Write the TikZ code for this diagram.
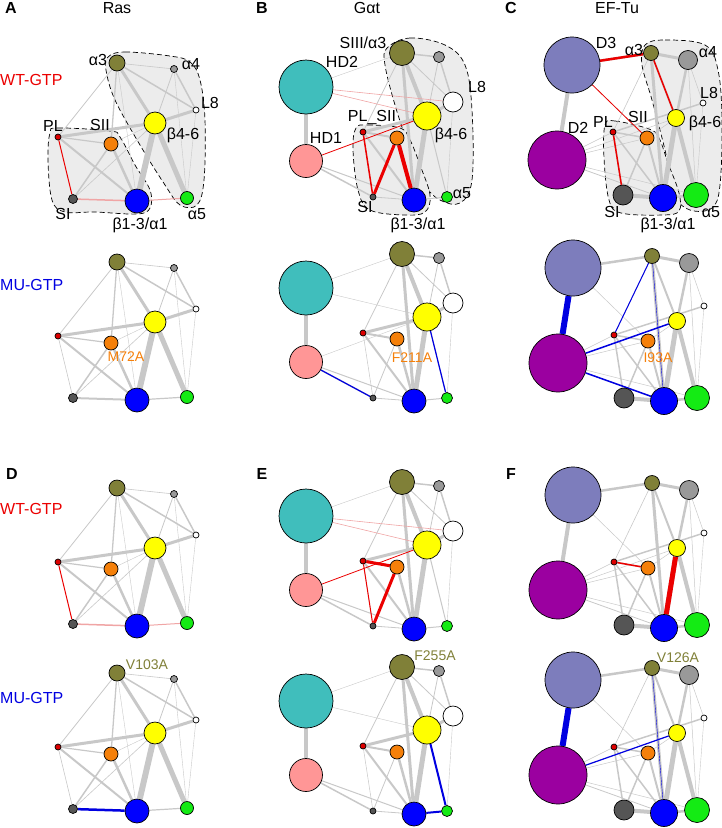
\documentclass[tikz,border=0pt]{standalone}
\usepackage{fontspec}
\setmainfont{Liberation Sans}

\definecolor{olv}{RGB}{128,128,56}
\definecolor{gra}{RGB}{153,153,153}
\definecolor{dgr}{RGB}{85,85,85}
\definecolor{yel}{RGB}{255,255,0}
\definecolor{org}{RGB}{245,128,10}
\definecolor{plred}{RGB}{221,0,0}
\definecolor{blu}{RGB}{0,0,255}
\definecolor{grn}{RGB}{20,235,20}
\definecolor{teal2}{RGB}{64,190,188}
\definecolor{pnk}{RGB}{255,150,150}
\definecolor{dthree}{RGB}{125,125,188}
\definecolor{dtwo}{RGB}{155,0,160}
\definecolor{edgegray}{RGB}{200,200,200}
\definecolor{hullgray}{RGB}{236,236,236}
\definecolor{wtred}{RGB}{235,0,0}
\definecolor{lightred}{RGB}{240,165,165}
\definecolor{mublue}{RGB}{0,0,225}

\pgfdeclarelayer{bg}
\pgfsetlayers{bg,main}

\tikzset{
  nd/.style={circle, draw=black, line width=0.7pt, inner sep=0pt},
  ed/.style={draw=edgegray},
  rd/.style={draw=wtred},
  lr/.style={draw=lightred},
  bl/.style={draw=mublue},
  hull/.style={draw=black, fill=hullgray, line width=0.7pt, dash pattern=on 5pt off 3pt},
  lbl/.style={font=\fontsize{16}{18}\selectfont, inner sep=0pt},
  mut/.style={font=\fontsize{14}{16}\selectfont, inner sep=0pt},
  ttl/.style={font=\fontsize{16}{18}\selectfont\bfseries, inner sep=0pt}
}

% Ras
\newcommand{\rasnodes}[1]{%
  \node[nd, fill=olv, minimum size=16pt] (#1a3) at (0,0) {};
  \node[nd, fill=gra, minimum size=7pt] (#1a4) at (57,6) {};
  \node[nd, fill=white, minimum size=6pt] (#1l8) at (79,47) {};
  \node[nd, fill=yel, minimum size=22pt] (#1b46) at (38,60) {};
  \node[nd, fill=org, minimum size=14pt] (#1sii) at (-6,81) {};
  \node[nd, fill=plred, minimum size=6pt] (#1pl) at (-59,74) {};
  \node[nd, fill=dgr, minimum size=9pt] (#1si) at (-44,136) {};
  \node[nd, fill=blu, minimum size=24pt] (#1b13) at (20,138) {};
  \node[nd, fill=grn, minimum size=13pt] (#1a5) at (70,135) {};
}
\newcommand{\rasedges}[1]{%
  \foreach \u/\v/\w in {a3/a4/0.6, a3/l8/1.5, a3/b46/3, a3/sii/1.3, a3/pl/0.8,
      a3/b13/0.4, a4/b46/0.8, a4/l8/1.5, a4/a5/0.4, l8/b46/3, l8/a5/0.4,
      pl/b46/3, pl/sii/1.2, pl/b13/2, sii/si/1.5, sii/b13/2.5, b46/b13/6,
      b46/a5/5, b46/si/0.6, b46/sii/0.4}
    \draw[ed, line width=\w pt] (#1\u) -- (#1\v);
}

% G alpha t
\newcommand{\gatnodes}[1]{%
  \node[nd, fill=olv, minimum size=25pt] (#1a3) at (0,0) {};
  \node[nd, fill=gra, minimum size=11pt] (#1a4) at (37,4) {};
  \node[nd, fill=white, minimum size=20pt] (#1l8) at (51,49) {};
  \node[nd, fill=yel, minimum size=28pt] (#1b46) at (25,63) {};
  \node[nd, fill=org, minimum size=14pt] (#1sii) at (-5,85) {};
  \node[nd, fill=plred, minimum size=6pt] (#1pl) at (-39,79) {};
  \node[nd, fill=dgr, minimum size=6pt] (#1si) at (-29,144) {};
  \node[nd, fill=blu, minimum size=24pt] (#1b13) at (12,147) {};
  \node[nd, fill=grn, minimum size=11pt] (#1a5) at (45,144) {};
  \node[nd, fill=teal2, minimum size=54pt] (#1hd2) at (-96,34) {};
  \node[nd, fill=pnk, minimum size=33pt] (#1hd1) at (-96,108) {};
}
\newcommand{\gatedges}[1]{%
  \foreach \u/\v/\w in {a3/a4/1.5, a3/b46/4, a3/l8/0.8, a3/b13/3, a3/pl/0.8,
      a3/hd2/0.4, a4/b46/0.8, a4/l8/1.5, l8/b46/3, b46/pl/3, b46/b13/5,
      hd2/hd1/4, pl/b13/2, pl/sii/2, sii/b13/2.5, sii/si/0.8, si/b13/0.8,
      b13/a5/1, hd1/b13/1, hd1/si/1.5, l8/a5/0.4, pl/si/0.5, b46/a5/1}
    \draw[ed, line width=\w pt] (#1\u) -- (#1\v);
}

% EF-Tu
\newcommand{\efnodes}[1]{%
  \node[nd, fill=olv, minimum size=15pt] (#1a3) at (0,0) {};
  \node[nd, fill=gra, minimum size=19pt] (#1a4) at (37,7) {};
  \node[nd, fill=white, minimum size=6pt] (#1l8) at (52,50) {};
  \node[nd, fill=yel, minimum size=17pt] (#1b46) at (25,65) {};
  \node[nd, fill=org, minimum size=14pt] (#1sii) at (-4,85) {};
  \node[nd, fill=plred, minimum size=6pt] (#1pl) at (-38,79) {};
  \node[nd, fill=dgr, minimum size=20pt] (#1si) at (-28,142) {};
  \node[nd, fill=blu, minimum size=27pt] (#1b13) at (12,145) {};
  \node[nd, fill=grn, minimum size=25pt] (#1a5) at (45,142) {};
  \node[nd, fill=dthree, minimum size=56pt] (#1d3) at (-79,12) {};
  \node[nd, fill=dtwo, minimum size=58pt] (#1d2) at (-94,107) {};
}
\newcommand{\efedges}[1]{%
  \foreach \u/\v/\w in {d3/a3/2.5, d3/sii/0.5, d3/d2/4, a3/a4/3, a3/b46/2,
      a3/b13/3, a3/pl/0.6, a4/b46/2.5, a4/l8/0.5, a4/a5/0.5, l8/pl/1.5,
      l8/a5/0.4, b46/b13/5, b46/a5/4, d2/b46/0.5, d2/sii/0.5, d2/b13/0.8,
      d2/a5/0.5, d2/pl/0.5, pl/si/1.5, pl/b13/1.5, pl/sii/1.5, sii/si/1.5,
      sii/b13/2, si/b13/4, b13/a5/2.5, sii/b46/0.5}
    \draw[ed, line width=\w pt] (#1\u) -- (#1\v);
}

\begin{document}
\begin{tikzpicture}[x=1pt,y=-1pt]
\useasboundingbox (0,0) rectangle (722,828);

% titles
\node[ttl] (tA) at (11,8) {A};
\node[lbl] (tRas) at (117,8) {Ras};
\node[ttl] (tB) at (262,8) {B};
\node[lbl] (tGat) at (367,8) {Gαt};
\node[ttl] (tC) at (511,8) {C};
\node[lbl] (tEF) at (617,8) {EF-Tu};
\node[ttl] (tD) at (12,474) {D};
\node[ttl] (tE) at (262,474) {E};
\node[ttl] (tF) at (511,474) {F};
\node[lbl, text=wtred, anchor=west] (rowA1) at (0,80) {WT-GTP};
\node[lbl, text=mublue, anchor=west] (rowA2) at (0,285) {MU-GTP};
\node[lbl, text=wtred, anchor=west] (rowD1) at (0,509) {WT-GTP};
\node[lbl, text=mublue, anchor=west] (rowD2) at (0,698) {MU-GTP};

% ---- A, WT
\begin{scope}[shift={(117,63)}]
  \begin{pgfonlayer}{bg}
    \draw[hull] plot[smooth cycle, tension=0.6] coordinates {(-9,-6) (8,-11) (53,-7) (73,-1) (83,17) (88,57) (87,117) (80,142) (63,142) (48,122) (23,82) (-2,37) (-11,7)};
    \draw[hull] plot[smooth cycle, tension=0.6] coordinates {(-67,70) (-59,65) (-7,68) (3,74) (18,102) (33,127) (33,145) (20,151) (-22,149) (-52,149) (-65,137) (-69,97)};
  \end{pgfonlayer}
  \rasnodes{AW}
  \begin{pgfonlayer}{bg}
    \rasedges{AW}
    \draw[rd, line width=1pt] (AWpl) -- (AWsi);
    \draw[lr, line width=1.5pt] (AWsi) -- (AWb13);
    \draw[lr, line width=1pt] (AWb13) -- (AWa5);
  \end{pgfonlayer}
  \node[lbl] (AWt1) at (-19,-3) {α3};
  \node[lbl] (AWt2) at (74,1) {α4};
  \node[lbl] (AWt3) at (93,40) {L8};
  \node[lbl] (AWt4) at (66,72) {β4-6};
  \node[lbl] (AWt5) at (-17,62) {SII};
  \node[lbl] (AWt6) at (-64,63) {PL};
  \node[lbl] (AWt7) at (-54,151) {SI};
  \node[lbl] (AWt8) at (23,162) {β1-3/α1};
  \node[lbl] (AWt9) at (80,151) {α5};
\end{scope}

% ---- A, MU
\begin{scope}[shift={(117,262)}]
  \rasnodes{AM}
  \begin{pgfonlayer}{bg}
    \rasedges{AM}
    \draw[ed, line width=0.6pt] (AMpl) -- (AMsi);
    \draw[ed, line width=2pt] (AMsi) -- (AMb13);
    \draw[ed, line width=1.2pt] (AMb13) -- (AMa5);
  \end{pgfonlayer}
  \node[mut, text=org] (AMm) at (9,95) {M72A};
\end{scope}

% ---- D, WT
\begin{scope}[shift={(117,488)}]
  \rasnodes{DW}
  \begin{pgfonlayer}{bg}
    \rasedges{DW}
    \draw[rd, line width=1pt] (DWpl) -- (DWsi);
    \draw[lr, line width=1.5pt] (DWsi) -- (DWb13);
    \draw[lr, line width=1pt] (DWb13) -- (DWa5);
  \end{pgfonlayer}
\end{scope}

% ---- D, MU
\begin{scope}[shift={(117,673)}]
  \rasnodes{DM}
  \begin{pgfonlayer}{bg}
    \rasedges{DM}
    \draw[ed, line width=0.6pt] (DMpl) -- (DMsi);
    \draw[bl, line width=2.5pt] (DMsi) -- (DMb13);
    \draw[ed, line width=1.2pt] (DMb13) -- (DMa5);
  \end{pgfonlayer}
  \node[mut, text=olv] (DMm) at (30,-8) {V103A};
\end{scope}

% ---- B, WT
\begin{scope}[shift={(402,53)}]
  \begin{pgfonlayer}{bg}
    \draw[hull] plot[smooth cycle, tension=0.6] coordinates {(-15,-5) (8,-15) (43,-8) (63,12) (70,57) (70,127) (58,150) (38,147) (23,132) (8,97) (-7,52) (-17,12)};
    \draw[hull] plot[smooth cycle, tension=0.6] coordinates {(-46,75) (-34,72) (-2,75) (8,87) (18,112) (28,142) (23,159) (3,162) (-32,157) (-44,137) (-49,97)};
  \end{pgfonlayer}
  \gatnodes{BW}
  \begin{pgfonlayer}{bg}
    \gatedges{BW}
    \draw[lr, line width=0.6pt] (BWhd2) -- (BWl8);
    \draw[lr, line width=0.6pt] (BWhd2) -- (BWb46);
    \draw[rd, line width=0.8pt] (BWhd1) -- (BWb46);
    \draw[rd, line width=1.5pt] (BWpl) -- (BWsi);
    \draw[rd, line width=3pt] (BWsi) -- (BWsii);
    \draw[rd, line width=4pt] (BWsii) -- (BWb13);
  \end{pgfonlayer}
  \node[lbl] (BWt1) at (-39,-10) {SIII/α3};
  \node[lbl] (BWt2) at (-60,9) {HD2};
  \node[lbl] (BWt3) at (75,34) {L8};
  \node[lbl] (BWt4) at (49,82) {β4-6};
  \node[lbl] (BWt5) at (-30,64) {PL\_SII};
  \node[lbl] (BWt6) at (-76,85) {HD1};
  \node[lbl] (BWt7) at (-37,154) {SI};
  \node[lbl] (BWt8) at (16,172) {β1-3/α1};
  \node[lbl] (BWt9) at (60,140) {α5};
\end{scope}

% ---- B, MU
\begin{scope}[shift={(402,254)}]
  \gatnodes{BM}
  \begin{pgfonlayer}{bg}
    \gatedges{BM}
    \draw[ed, line width=0.4pt] (BMhd2) -- (BMb46);
    \draw[ed, line width=0.4pt] (BMhd1) -- (BMb46);
    \draw[bl, line width=1.2pt] (BMhd1) -- (BMsi);
    \draw[bl, line width=1.2pt] (BMb46) -- (BMa5);
  \end{pgfonlayer}
  \node[mut, text=org] (BMm) at (10,104) {F211A};
\end{scope}

% ---- E, WT
\begin{scope}[shift={(402,482)}]
  \gatnodes{EW}
  \begin{pgfonlayer}{bg}
    \gatedges{EW}
    \draw[lr, line width=0.6pt] (EWhd2) -- (EWl8);
    \draw[lr, line width=0.6pt] (EWhd2) -- (EWb46);
    \draw[rd, line width=0.8pt] (EWhd1) -- (EWb46);
    \draw[rd, line width=3pt] (EWpl) -- (EWsii);
    \draw[rd, line width=3pt] (EWsii) -- (EWsi);
    \draw[rd, line width=1pt] (EWpl) -- (EWsi);
  \end{pgfonlayer}
\end{scope}

% ---- E, MU
\begin{scope}[shift={(402,667)}]
  \gatnodes{EM}
  \begin{pgfonlayer}{bg}
    \gatedges{EM}
    \draw[ed, line width=0.4pt] (EMhd2) -- (EMb46);
    \draw[bl, line width=2pt] (EMb46) -- (EMa5);
    \draw[bl, line width=2pt] (EMb13) -- (EMa5);
  \end{pgfonlayer}
  \node[mut, text=olv] (EMm) at (33,-11) {F255A};
\end{scope}

% ---- C, WT
\begin{scope}[shift={(651,53)}]
  \begin{pgfonlayer}{bg}
    \draw[hull] plot[smooth cycle, tension=0.6] coordinates {(-6,-8) (14,-13) (54,-8) (67,17) (71,67) (69,132) (61,155) (39,157) (24,142) (14,97) (1,47) (-9,12)};
    \draw[hull] plot[smooth cycle, tension=0.6] coordinates {(-46,72) (-36,68) (-2,76) (8,85) (17,110) (28,140) (28,158) (12,162) (-30,160) (-42,147) (-47,105)};
  \end{pgfonlayer}
  \efnodes{CW}
  \begin{pgfonlayer}{bg}
    \efedges{CW}
    \draw[rd, line width=2.5pt] (CWd3) -- (CWa3);
    \draw[rd, line width=0.8pt] (CWd3) -- (CWsii);
    \draw[rd, line width=1.5pt] (CWa3) -- (CWb46);
    \draw[rd, line width=1.5pt] (CWpl) -- (CWsi);
  \end{pgfonlayer}
  \node[lbl] (CWt1) at (-45,-10) {D3};
  \node[lbl] (CWt2) at (-17,-3) {α3};
  \node[lbl] (CWt3) at (57,-1) {α4};
  \node[lbl] (CWt4) at (58,40) {L8};
  \node[lbl] (CWt5) at (54,70) {β4-6};
  \node[lbl] (CWt6) at (-13,64) {SII};
  \node[lbl] (CWt7) at (-48,69) {PL};
  \node[lbl] (CWt8) at (-73,75) {D2};
  \node[lbl] (CWt9) at (-39,159) {SI};
  \node[lbl] (CWt10) at (17,172) {β1-3/α1};
  \node[lbl] (CWt11) at (60,159) {α5};
\end{scope}

% ---- C, MU
\begin{scope}[shift={(652,256)}]
  \efnodes{CM}
  \begin{pgfonlayer}{bg}
    \efedges{CM}
    \draw[bl, line width=6pt] (CMd3) -- (CMd2);
    \draw[bl, line width=1pt] (CMa3) -- (CMpl);
    \draw[bl, line width=1.5pt] (CMd2) -- (CMb46);
    \draw[bl, line width=1.5pt] (CMd2) -- (CMb13);
    \draw[bl, line width=0.4pt] (CMa3) -- (CMb13);
  \end{pgfonlayer}
  \node[mut, text=org] (CMm) at (6,102) {I93A};
\end{scope}

% ---- F, WT
\begin{scope}[shift={(652,483)}]
  \efnodes{FW}
  \begin{pgfonlayer}{bg}
    \efedges{FW}
    \draw[rd, line width=1.5pt] (FWpl) -- (FWsii);
    \draw[rd, line width=5pt] (FWb46) -- (FWb13);
  \end{pgfonlayer}
\end{scope}

% ---- F, MU
\begin{scope}[shift={(652,668)}]
  \efnodes{FM}
  \begin{pgfonlayer}{bg}
    \efedges{FM}
    \draw[bl, line width=6pt] (FMd3) -- (FMd2);
    \draw[bl, line width=1.2pt] (FMd2) -- (FMb46);
    \draw[bl, line width=0.4pt] (FMa3) -- (FMb13);
  \end{pgfonlayer}
  \node[mut, text=olv] (FMm) at (26,-10) {V126A};
\end{scope}

\end{tikzpicture}
\end{document}
